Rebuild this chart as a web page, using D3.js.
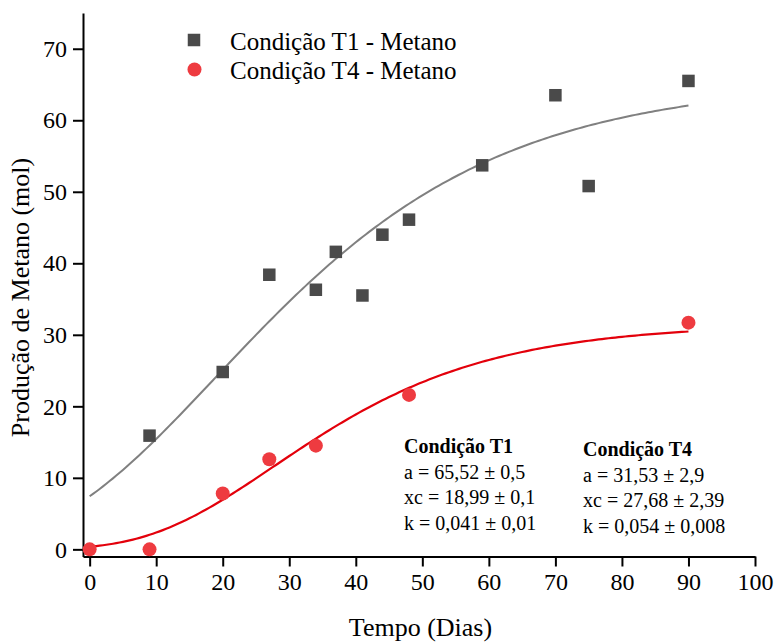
<!DOCTYPE html>
<html>
<head>
<meta charset="utf-8">
<script src="https://cdn.jsdelivr.net/npm/d3@7"></script>
<style>
  html, body { margin: 0; padding: 0; background: #fff; }
  svg { display: block; }
  svg text { font-family: 'Liberation Serif', 'Times New Roman', serif; }
</style>
</head>
<body>
<div id="chart"></div>
<script>
'use strict';

// Measured points (day, mol)
const t1Days = [9, 20, 27, 34, 37, 41, 44, 48, 59, 70, 75, 90];
const t1Methane = [15.9, 24.8, 38.4, 36.3, 41.6, 35.5, 44.0, 46.1, 53.7, 63.5, 50.8, 65.5];
const t4Days = [0, 9, 20, 27, 34, 48, 90];
const t4Methane = [0, 0, 7.8, 12.6, 14.5, 21.6, 31.7];

// Fitted parameters [a, xc, k] as printed in the chart
const t1Fit = [65.52, 18.99, 0.041];
const t4Fit = [31.53, 27.68, 0.054];

const seriesNames = ['Condição T1 - Metano', 'Condição T4 - Metano'];
const t1Lines = ['a = 65,52 ± 0,5', 'xc = 18,99 ± 0,1', 'k = 0,041 ± 0,01'];
const t4Lines = ['a = 31,53 ± 2,9', 'xc = 27,68 ± 2,39', 'k = 0,054 ± 0,008'];

const xMajor = d3.range(0, 101, 10);
const xMinor = d3.range(5, 100, 10);
const yMajor = d3.range(0, 71, 10);
const yMinor = d3.range(5, 70, 10);

const width = 778;
const height = 642;
const serif = "'Liberation Serif', 'Times New Roman', serif";

const x = d3.scaleLinear().domain([-1, 100]).range([83, 755]);
const y = d3.scaleLinear().domain([-1, 75]).range([556.5, 13]);

const svg = d3.select('#chart')
  .append('svg')
  .attr('width', width)
  .attr('height', height);

/**
 * Gompertz curve used by the fit: a * exp(-exp(-k (x - xc))).
 * @param {number[]} p Parameters [a, xc, k].
 * @param {number} t Day.
 * @returns {number}
 */
function gompertz(p, t) {
  return p[0] * Math.exp(-Math.exp(-p[2] * (t - p[1])));
}

/**
 * Draw an axis (major ticks with labels plus short unlabelled minor ticks).
 */
function drawAxis(axisFn, scale, major, minor, transform) {
  const g = svg.append('g').attr('transform', transform);

  g.call(axisFn(scale).tickValues(minor).tickSize(5).tickSizeOuter(0)
    .tickFormat(''));
  g.call(axisFn(scale).tickValues(major).tickSize(10).tickSizeOuter(0)
    .tickPadding(6).tickFormat(d3.format('d')));

  g.attr('font-family', serif);
  g.selectAll('path.domain').attr('stroke', '#000').attr('stroke-width', 2);
  g.selectAll('.tick line').attr('stroke', '#000').attr('stroke-width', 2);
  g.selectAll('.tick text')
    .attr('font-family', serif)
    .attr('font-size', 24)
    .attr('fill', '#000');
  return g;
}

drawAxis(d3.axisBottom, x, xMajor, xMinor, `translate(0,${y.range()[0]})`);
drawAxis(d3.axisLeft, y, yMajor, yMinor, `translate(${x.range()[0]},0)`);

// fit curves
const curve = d3.line()
  .x(d => x(d[0]))
  .y(d => y(d[1]));

const fitDays = d3.range(0, 90.001, 0.5);

svg.append('path')
  .attr('d', curve(fitDays.map(t => [t, gompertz(t1Fit, t)])))
  .attr('fill', 'none')
  .attr('stroke', '#808080')
  .attr('stroke-width', 2);

svg.append('path')
  .attr('d', curve(fitDays.map(t => [t, gompertz(t4Fit, t)])))
  .attr('fill', 'none')
  .attr('stroke', '#e3000b')
  .attr('stroke-width', 2.2);

// markers
const sq = 12.5;
svg.append('g')
  .selectAll('rect')
  .data(d3.zip(t1Days, t1Methane))
  .join('rect')
  .attr('x', d => x(d[0]) - sq / 2)
  .attr('y', d => y(d[1]) - sq / 2)
  .attr('width', sq)
  .attr('height', sq)
  .attr('fill', '#4a4a4a');

svg.append('g')
  .selectAll('circle')
  .data(d3.zip(t4Days, t4Methane))
  .join('circle')
  .attr('cx', d => x(d[0]))
  .attr('cy', d => y(d[1]))
  .attr('r', 7)
  .attr('fill', '#ee3b40');

// legend
svg.append('rect')
  .attr('x', 194 - sq / 2).attr('y', 40 - sq / 2)
  .attr('width', sq).attr('height', sq)
  .attr('fill', '#4a4a4a');
svg.append('circle')
  .attr('cx', 194.5).attr('cy', 69.5).attr('r', 7)
  .attr('fill', '#ee3b40');

seriesNames.forEach((name, i) => {
  svg.append('text')
    .attr('x', 230)
    .attr('y', 50 + i * 29)
    .attr('font-family', serif)
    .attr('font-size', 25)
    .text(name);
});

// fit parameter blocks
function drawBlock(x0, y0, title, lines) {
  svg.append('text')
    .attr('x', x0).attr('y', y0)
    .attr('font-family', serif)
    .attr('font-size', 20)
    .attr('font-weight', 'bold')
    .text(title);
  lines.forEach((line, i) => {
    svg.append('text')
      .attr('x', x0).attr('y', y0 + 26 + i * 25.3)
      .attr('font-family', serif)
      .attr('font-size', 20)
      .text(line);
  });
}

drawBlock(404, 453, 'Condição T1', t1Lines);
drawBlock(583, 456, 'Condição T4', t4Lines);

// axis titles
svg.append('text')
  .attr('x', 420.5)
  .attr('y', 636)
  .attr('text-anchor', 'middle')
  .attr('font-family', serif)
  .attr('font-size', 26)
  .text('Tempo (Dias)');

svg.append('text')
  .attr('transform', 'translate(29,297.5) rotate(-90)')
  .attr('text-anchor', 'middle')
  .attr('font-family', serif)
  .attr('font-size', 26)
  .text('Produção de Metano (mol)');
</script>
</body>
</html>
